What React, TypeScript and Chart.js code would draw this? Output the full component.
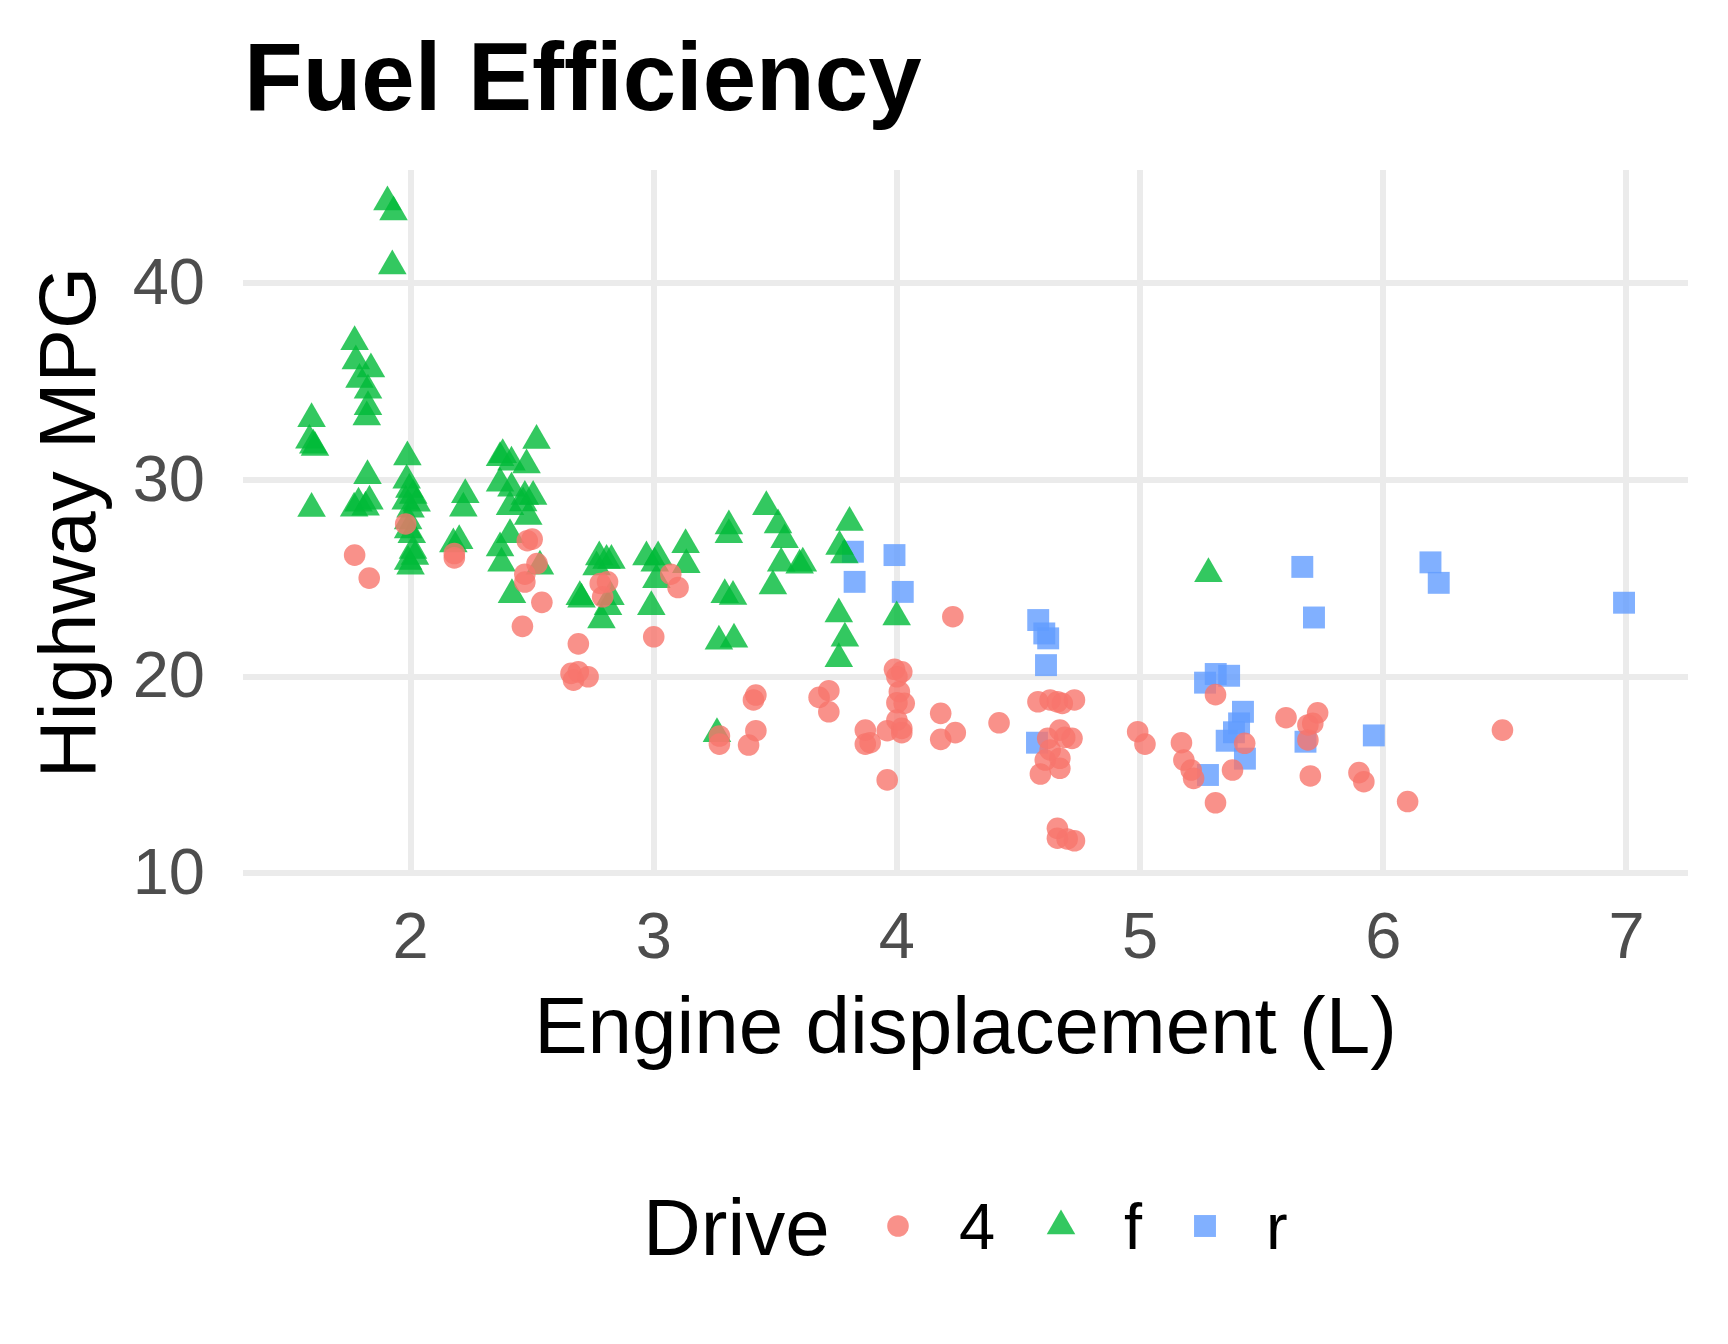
import { useEffect, useRef } from 'react';
import { Chart, registerables, type ChartConfiguration, type Plugin, type Scale } from 'chart.js';
import { drawPoint } from 'chart.js/helpers';

Chart.register(...registerables);

const FONT = "'Liberation Sans', Arial, Helvetica, sans-serif";

// drive types
const driveLabels = ['4', 'f', 'r'];

const fourWheelPoints = [
  [1.77, 26.17], [1.83, 25.0], [1.98, 27.75], [2.18, 26.03], [2.18, 26.25],
  [2.48, 26.9], [2.5, 26.98], [2.52, 25.74], [2.47, 25.2], [2.47, 24.8], [2.54, 23.77],
  [2.46, 22.55], [2.69, 21.66], [2.66, 20.16], [2.69, 20.24], [2.67, 19.82], [2.73, 19.99],
  [2.78, 24.73], [2.81, 24.81], [2.79, 24.05], [3.0, 22.02], [3.07, 25.2], [3.1, 24.52],
  [3.42, 19.06], [3.41, 18.81], [3.27, 16.98], [3.27, 16.57], [3.42, 17.25], [3.39, 16.52],
  [3.72, 19.28], [3.68, 18.94], [3.72, 18.21], [3.87, 17.28], [3.87, 16.57], [3.89, 16.64],
  [3.96, 17.25], [3.96, 14.75], [3.99, 20.37], [4.02, 20.24], [4.0, 19.99], [4.01, 19.23],
  [4.0, 18.67], [4.03, 18.64], [4.0, 17.79], [4.02, 17.37], [4.02, 17.15], [4.18, 18.13],
  [4.24, 17.15], [4.18, 16.81], [4.23, 23.04], [4.42, 17.65], [4.58, 18.72], [4.63, 18.81],
  [4.66, 18.72], [4.68, 18.64], [4.73, 18.81], [4.67, 17.28], [4.72, 16.86], [4.69, 16.91],
  [4.62, 16.86], [4.63, 16.27], [4.67, 15.85], [4.61, 15.76], [4.67, 15.34], [4.59, 15.05],
  [4.66, 12.29], [4.66, 11.79], [4.73, 11.66], [4.7, 11.75], [4.99, 17.2], [5.02, 16.57],
  [5.17, 16.64], [5.18, 15.76], [5.21, 15.25], [5.22, 14.83], [5.31, 19.08], [5.43, 16.61],
  [5.38, 15.25], [5.31, 13.59], [5.6, 17.91], [5.73, 18.16], [5.71, 17.62], [5.69, 17.54],
  [5.69, 16.78], [5.7, 14.95], [5.9, 15.12], [5.92, 14.66], [6.1, 13.65], [6.49, 17.28],
];

const frontWheelPoints = [
  [1.905, 44.1], [1.93, 43.6], [1.925, 40.85], [1.77, 37.0], [1.775, 36.03], [1.837, 35.62],
  [1.79, 35.09], [1.825, 34.54], [1.825, 33.7], [1.82, 33.19], [1.593, 33.1], [1.584, 32.0],
  [1.607, 31.63], [1.6, 31.75], [1.593, 28.54], [1.823, 30.2], [1.786, 28.8], [1.768, 28.55],
  [1.831, 28.9], [1.815, 28.6],
  [1.987, 31.15], [1.984, 29.97], [1.995, 29.5], [2.011, 29.2], [1.98, 28.9], [2.025, 28.8],
  [2.0, 28.5], [1.99, 27.9], [1.99, 27.45], [2.005, 27.2], [2.018, 26.1], [1.99, 25.85],
  [2.0, 25.6], [2.01, 26.4],
  [2.225, 29.23], [2.217, 28.55], [2.176, 26.73], [2.2, 26.9],
  [2.379, 31.26], [2.368, 31.12], [2.415, 30.88], [2.477, 30.75], [2.518, 31.99], [2.368, 29.82],
  [2.415, 29.57], [2.409, 28.63], [2.47, 29.14], [2.504, 29.14], [2.463, 28.81], [2.484, 28.13],
  [2.409, 27.2], [2.368, 26.53], [2.374, 25.76], [2.532, 25.6], [2.417, 24.15],
  [2.776, 26.07], [2.806, 25.9], [2.826, 25.9], [2.765, 25.57], [2.696, 24.05], [2.703, 23.93],
  [2.822, 24.05], [2.812, 23.54], [2.785, 22.87],
  [2.97, 26.07], [3.018, 26.07], [3.004, 25.76], [3.011, 24.92], [3.131, 26.69], [3.134, 25.68],
  [2.99, 23.55],
  [3.309, 27.65], [3.309, 27.2], [3.292, 24.15], [3.326, 24.06], [3.268, 21.79], [3.33, 21.9],
  [3.26, 17.1],
  [3.463, 28.63], [3.511, 27.7], [3.538, 26.95], [3.524, 25.76], [3.49, 24.6], [3.613, 25.76],
  [3.6, 25.65],
  [3.805, 27.83], [3.764, 26.6], [3.784, 26.18], [3.761, 23.18], [3.786, 21.95], [3.761, 20.9],
  [3.999, 23.02], [5.281, 25.22],
];

const rearWheelPoints = [
  [3.819, 26.34], [3.99, 26.17], [3.826, 24.81], [4.024, 24.3], [4.581, 22.87], [4.606, 22.19],
  [4.622, 21.94], [4.613, 20.58], [4.576, 16.64], [5.267, 19.69], [5.311, 20.13], [5.366, 20.04],
  [5.423, 18.21], [5.407, 17.62], [5.386, 17.17], [5.356, 16.74], [5.431, 15.83], [5.279, 15.0],
  [5.68, 16.69], [5.961, 17.01], [5.667, 25.57], [5.715, 23.0], [6.194, 25.8], [6.228, 24.76],
  [6.99, 23.75],
];

const xTicks = [2, 3, 4, 5, 6, 7];
const yTicks = [10, 20, 30, 40];

const colors = ['rgba(248, 118, 109, 0.8)', 'rgba(0, 186, 56, 0.8)', 'rgba(97, 156, 255, 0.8)'];
const shapes = ['circle', 'triangle', 'rect'] as const;
const radii = [10.8, 16.5, 15.5];

const toXY = (pts: number[][]) => pts.map(([x, y]) => ({ x, y }));

// title above the panel and the inline ggplot-style legend below
const decorPlugin: Plugin<'scatter'> = {
  id: 'decor',
  afterDraw(chart) {
    const { ctx, chartArea } = chart;
    ctx.save();
    ctx.fillStyle = '#000000';
    ctx.textAlign = 'left';
    ctx.textBaseline = 'alphabetic';

    ctx.font = `bold 96px ${FONT}`;
    ctx.fillText('Fuel Efficiency', chartArea.left + 1, 110);

    const cy = 1226;
    ctx.font = `80px ${FONT}`;
    ctx.fillText('Drive', 643, 1255);

    const markerX = [898, 1061, 1205];
    const labelX = [959, 1124, 1266];
    driveLabels.forEach((label, i) => {
      ctx.fillStyle = colors[i];
      drawPoint(ctx, { pointStyle: shapes[i], radius: radii[i], rotation: 0, borderWidth: 0 } as any, markerX[i], cy);
      ctx.fillStyle = '#000000';
      ctx.font = `65px ${FONT}`;
      ctx.fillText(label, labelX[i], 1249);
    });
    ctx.restore();
  },
};

export default function App() {
  const canvasRef = useRef<HTMLCanvasElement>(null);
  const chartRef = useRef<Chart | null>(null);

  useEffect(() => {
    document.body.style.margin = '0';
    const canvas = canvasRef.current;
    if (!canvas) {
      return;
    }
    chartRef.current?.destroy();

    const gridStyle = { color: '#EBEBEB', lineWidth: 6, drawTicks: false };

    const config: ChartConfiguration<'scatter'> = {
      type: 'scatter',
      data: {
        datasets: [fourWheelPoints, frontWheelPoints, rearWheelPoints].map((pts, i) => ({
          label: driveLabels[i],
          data: toXY(pts),
          pointStyle: shapes[i],
          pointRadius: radii[i],
          pointBackgroundColor: colors[i],
          pointBorderWidth: 0,
          pointBorderColor: 'rgba(0,0,0,0)',
        })),
      },
      options: {
        responsive: false,
        animation: false,
        layout: { padding: { left: 0, top: 170, right: 40, bottom: 265 } },
        plugins: {
          legend: { display: false },
          tooltip: { enabled: false },
          title: { display: false },
        },
        scales: {
          x: {
            type: 'linear',
            min: 1.311,
            max: 7.253,
            afterBuildTicks: (scale: Scale) => {
              scale.ticks = xTicks.map(value => ({ value }));
            },
            afterFit: (scale: Scale) => {
              scale.height = 204;
            },
            grid: gridStyle,
            border: { display: false },
            ticks: {
              color: '#4D4D4D',
              font: { family: FONT, size: 65 },
              padding: 26,
              maxRotation: 0,
              autoSkip: false,
            },
            title: {
              display: true,
              text: 'Engine displacement (L)',
              color: '#000000',
              font: { family: FONT, size: 80 },
              padding: { top: 0, bottom: 0 },
            },
          },
          y: {
            type: 'linear',
            min: 9.92,
            max: 45.73,
            afterBuildTicks: (scale: Scale) => {
              scale.ticks = yTicks.map(value => ({ value }));
            },
            afterFit: (scale: Scale) => {
              scale.width = 243;
            },
            grid: gridStyle,
            border: { display: false },
            ticks: {
              color: '#4D4D4D',
              font: { family: FONT, size: 65 },
              padding: 38,
              labelOffset: 3,
              autoSkip: false,
            },
            title: {
              display: true,
              text: 'Highway MPG',
              color: '#000000',
              font: { family: FONT, size: 80 },
              padding: { top: 25, bottom: 0 },
            },
          },
        },
      },
      plugins: [decorPlugin],
    };

    chartRef.current = new Chart(canvas, config);

    return () => {
      chartRef.current?.destroy();
      chartRef.current = null;
    };
  }, []);

  return (
    <div style={{ width: 1728, height: 1344 }}>
      <canvas ref={canvasRef} width={1728} height={1344} style={{ display: 'block' }} />
    </div>
  );
}
